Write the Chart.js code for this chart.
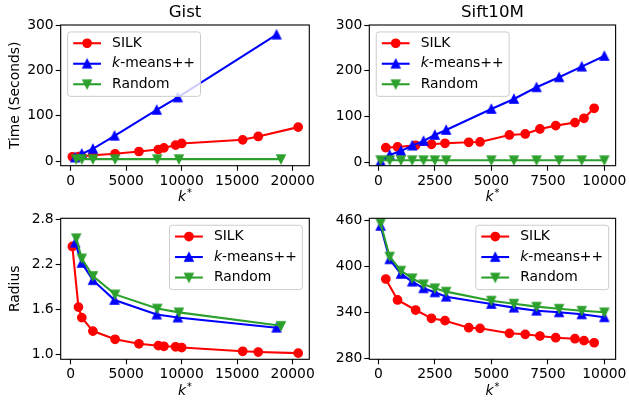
<!DOCTYPE html>
<html><head><meta charset="utf-8">
<script src="https://cdn.jsdelivr.net/npm/chart.js@4.4.1/dist/chart.umd.min.js"></script>
<style>
html,body{margin:0;padding:0;background:#fff;}
#wrap{position:relative;width:629px;height:400px;background:#fff;}
canvas{position:absolute;left:0;top:0;}
</style></head><body>
<div id="wrap">
<canvas id="c1" width="629" height="400"></canvas>
<canvas id="c2" width="629" height="400"></canvas>
<canvas id="c3" width="629" height="400"></canvas>
<canvas id="c4" width="629" height="400"></canvas>
</div>
<script>
// ---------- data ----------
const seriesNames = ["SILK", "k-means++", "Random"];
const panelTitles = ["Gist", "Sift10M"];
const yLabels = ["Time (Seconds)", "Radius"];

const gistSilkK      = [150, 700, 1000, 2000, 4000, 6150, 7900, 8400, 9450, 10000, 15500, 16900, 20500];
const gistSilkTime   = [9.6, 10, 11, 13.2, 16.2, 21.3, 25.7, 29.4, 35.3, 39, 47, 54.4, 75];
const gistSilkRadius = [2.44, 1.63, 1.49, 1.31, 1.20, 1.14, 1.115, 1.107, 1.10, 1.09, 1.04, 1.03, 1.015];
const gistKmK        = [400, 1000, 2000, 3950, 7750, 9650, 18550];
const gistKmTime     = [8, 16.2, 27.2, 55.9, 113, 140.4, 278.7];
const gistKmRadius   = [2.49, 2.22, 1.99, 1.725, 1.53, 1.49, 1.355];
const gistRandK      = [500, 1000, 2000, 4000, 7800, 9750, 18950];
const gistRandTime   = [4.4, 4.4, 4.4, 4.4, 4.4, 4.4, 4.5];
const gistRandRadius = [2.55, 2.28, 2.045, 1.80, 1.61, 1.56, 1.38];

const siftSilkK      = [330, 850, 1650, 2350, 2950, 4000, 4500, 5800, 6500, 7150, 7850, 8700, 9100, 9550];
const siftSilkTime   = [32, 33.5, 37.1, 39.3, 41.5, 43.7, 44.4, 59.7, 61.9, 72.8, 80.1, 86.7, 96.1, 118];
const siftSilkRadius = [383.8, 356.4, 343.3, 332.5, 329.4, 320.2, 319.4, 312.9, 311.6, 309.4, 307.2, 305.9, 303.3, 300.6];
const siftKmK        = [100, 500, 1000, 1500, 2000, 2500, 3000, 5000, 6000, 7000, 8000, 9000, 10000];
const siftKmTime     = [2, 16, 24.8, 36.4, 46.6, 59.7, 70.6, 116.5, 138.4, 163.9, 185.7, 209, 232.3];
const siftKmRadius   = [453.1, 409.5, 390.4, 380.3, 371.7, 366.4, 360.7, 351.2, 346.4, 342.4, 340.3, 337.7, 333.8];
const siftRandK      = [100, 500, 1000, 1500, 2000, 2500, 3000, 5000, 6000, 7000, 8000, 9000, 10000];
const siftRandTime   = [4.5, 4.5, 4.5, 4.5, 4.5, 4.5, 4.5, 4.5, 4.5, 4.5, 4.5, 4.5, 4.5];
const siftRandRadius = [456.6, 413, 394.7, 384.7, 376.9, 371.7, 367.3, 355.5, 351.6, 347.7, 345, 342.4, 340.3];

const gistXTicks   = [0, 5000, 10000, 15000, 20000];
const siftXTicks   = [0, 2500, 5000, 7500, 10000];
const timeYTicks   = [0, 100, 200, 300];
const gistRYTicks  = [1.0, 1.6, 2.2, 2.8];
const siftRYTicks  = [280, 340, 400, 460];

// ---------- style ----------
const FAM = "'DejaVu Sans', sans-serif";
const FS = 13.89;
const RED = '#ff0000', BLUE = '#0000ff', GREEN = '#2ca02c';

function triMarker(color, down) {
  const c = document.createElement('canvas');
  c.width = 16; c.height = 16;
  const g = c.getContext('2d');
  const h = 4.17, m = 8;
  g.beginPath();
  if (!down) { g.moveTo(m, m - h); g.lineTo(m - h, m + h); g.lineTo(m + h, m + h); }
  else { g.moveTo(m, m + h); g.lineTo(m - h, m - h); g.lineTo(m + h, m - h); }
  g.closePath();
  g.fillStyle = color; g.fill();
  g.lineWidth = 1.39; g.strokeStyle = color; g.lineJoin = 'miter'; g.stroke();
  return c;
}
const upTri = triMarker(BLUE, false);
const downTri = triMarker(GREEN, true);

function ds(label, xs, ys, color, style, order) {
  const isImg = typeof style !== 'string';
  return {
    label, data: xs.map((x, i) => ({x, y: ys[i]})),
    borderColor: color, backgroundColor: color, borderWidth: 2.08,
    pointStyle: style, pointRadius: isImg ? 5 : 4.17, pointBorderWidth: 1.39,
    pointBackgroundColor: color, pointBorderColor: color,
    tension: 0, fill: false, order
  };
}

const mplPlugin = {
  id: 'mpl',
  afterDraw(chart, args, opts) {
    const ctx = chart.ctx, a = chart.chartArea;
    ctx.save();
    // spines
    ctx.strokeStyle = '#000'; ctx.lineWidth = 1.11;
    ctx.strokeRect(a.left, a.top, a.right - a.left, a.bottom - a.top);
    // x label  k^*
    const cx = (a.left + a.right) / 2, base = a.bottom + 35.7;
    ctx.fillStyle = '#000';
    ctx.textBaseline = 'alphabetic';
    ctx.font = `italic ${FS}px ${FAM}`;
    const kw = ctx.measureText('k').width;
    ctx.font = `${FS * 0.7}px ${FAM}`;
    const sw = ctx.measureText('*').width;
    const x0 = cx - (kw + 1 + sw) / 2;
    ctx.font = `italic ${FS}px ${FAM}`;
    ctx.textAlign = 'left';
    ctx.fillText('k', x0, base);
    ctx.font = `${FS * 0.7}px ${FAM}`;
    ctx.fillText('*', x0 + kw + 1, base - 5);
    // legend
    const items = chart.data.datasets.slice().sort((p, q) => q.order - p.order);
    ctx.font = `${FS}px ${FAM}`;
    const widths = items.map(d => {
      if (d.label === 'k-means++') {
        ctx.font = `italic ${FS}px ${FAM}`;
        const w1 = ctx.measureText('k').width;
        ctx.font = `${FS}px ${FAM}`;
        return w1 + ctx.measureText('-means++').width;
      }
      return ctx.measureText(d.label).width;
    });
    const maxW = Math.max(...widths);
    const w = 5.56 + 27.8 + 11.1 + maxW + 5.56;
    const h = 64.4;
    const bx = opts.pos === 'ul' ? a.left + 6.94 : a.right - 6.94 - w;
    const by = a.top + 6.94;
    ctx.beginPath();
    if (ctx.roundRect) ctx.roundRect(bx, by, w, h, 2.8); else ctx.rect(bx, by, w, h);
    ctx.fillStyle = 'rgba(255,255,255,0.8)'; ctx.fill();
    ctx.strokeStyle = '#cccccc'; ctx.lineWidth = 1.0; ctx.stroke();
    items.forEach((d, i) => {
      const cy = by + 11.3 + i * 20.5;
      const lx = bx + 5.56;
      ctx.beginPath(); ctx.moveTo(lx, cy); ctx.lineTo(lx + 27.8, cy);
      ctx.strokeStyle = d.borderColor; ctx.lineWidth = 2.08; ctx.stroke();
      const mx = lx + 13.9;
      if (typeof d.pointStyle === 'string') {
        ctx.beginPath(); ctx.arc(mx, cy, 4.17, 0, Math.PI * 2);
        ctx.fillStyle = d.borderColor; ctx.fill();
        ctx.lineWidth = 1.39; ctx.stroke();
      } else {
        ctx.drawImage(d.pointStyle, mx - 8, cy - 8);
      }
      ctx.fillStyle = '#000'; ctx.textBaseline = 'middle'; ctx.textAlign = 'left';
      const tx = lx + 27.8 + 11.1;
      if (d.label === 'k-means++') {
        ctx.font = `italic ${FS}px ${FAM}`;
        ctx.fillText('k', tx, cy);
        const w1 = ctx.measureText('k').width;
        ctx.font = `${FS}px ${FAM}`;
        ctx.fillText('-means++', tx + w1, cy);
      } else {
        ctx.font = `${FS}px ${FAM}`;
        ctx.fillText(d.label, tx, cy);
      }
    });
    ctx.restore();
  }
};

const XH = 30, YW = 45;
function makeChart(id, area, title, yTitle, datasets, xr, xt, yr, yt, yfmt, legendPos) {
  const left = area.l;
  const padLeft = yTitle ? 0 : left - YW;
  const yWidth = yTitle ? left : YW;
  const titleH = title ? 25 : 0;
  return new Chart(document.getElementById(id), {
    type: 'line',
    data: {datasets},
    plugins: [mplPlugin],
    options: {
      responsive: false, animation: false, devicePixelRatio: 1, events: [],
      layout: {padding: {left: padLeft, top: area.t - titleH, right: 629 - area.r, bottom: 400 - area.b - XH}},
      plugins: {
        legend: {display: false}, tooltip: {enabled: false},
        title: {display: !!title, text: title || '', fullSize: false, color: '#000',
                font: {family: FAM, size: 16.67, weight: 'normal'}, padding: {top: 3, bottom: 2}},
        mpl: {pos: legendPos}
      },
      scales: {
        x: {
          type: 'linear', min: xr[0], max: xr[1],
          afterBuildTicks: s => { s.ticks = xt.map(v => ({value: v})); },
          afterFit: s => { s.height = XH; },
          grid: {display: true, drawOnChartArea: false, drawTicks: true, tickLength: 5, tickColor: '#000', tickWidth: 1.1, color: '#000'},
          border: {display: false},
          ticks: {color: '#000', font: {family: FAM, size: FS}, padding: 2, maxRotation: 0, autoSkip: false,
                  callback: v => String(v)}
        },
        y: {
          type: 'linear', min: yr[0], max: yr[1],
          afterBuildTicks: s => { s.ticks = yt.map(v => ({value: v})); },
          afterFit: s => { s.width = yWidth; },
          grid: {display: true, drawOnChartArea: false, drawTicks: true, tickLength: 5, tickColor: '#000', tickWidth: 1.1, color: '#000'},
          border: {display: false},
          ticks: {color: '#000', font: {family: FAM, size: FS}, padding: 2, autoSkip: false, callback: yfmt},
          title: {display: !!yTitle, text: yTitle || '', color: '#000', font: {family: FAM, size: FS}, padding: {top: 7, bottom: 0}}
        }
      }
    }
  });
}

const areas = {
  tl: {l: 60.7, t: 25, r: 309.3, b: 165.7},
  tr: {l: 369.3, t: 25, r: 618.3, b: 165.7},
  bl: {l: 60.7, t: 218.3, r: 309.3, b: 359.3},
  br: {l: 369.3, t: 218.3, r: 618.3, b: 359.3}
};
const intFmt = v => String(v);

makeChart('c1', areas.tl, panelTitles[0], yLabels[0], [
  ds(seriesNames[0], gistSilkK, gistSilkTime, RED, 'circle', 3),
  ds(seriesNames[1], gistKmK, gistKmTime, BLUE, upTri, 2),
  ds(seriesNames[2], gistRandK, gistRandTime, GREEN, downTri, 1)
], [-900, 21500], gistXTicks, [-10, 300], timeYTicks, intFmt, 'ul');

makeChart('c2', areas.tr, panelTitles[1], null, [
  ds(seriesNames[0], siftSilkK, siftSilkTime, RED, 'circle', 3),
  ds(seriesNames[1], siftKmK, siftKmTime, BLUE, upTri, 2),
  ds(seriesNames[2], siftRandK, siftRandTime, GREEN, downTri, 1)
], [-400, 10500], siftXTicks, [-7.5, 300], timeYTicks, intFmt, 'ul');

makeChart('c3', areas.bl, null, yLabels[1], [
  ds(seriesNames[0], gistSilkK, gistSilkRadius, RED, 'circle', 3),
  ds(seriesNames[1], gistKmK, gistKmRadius, BLUE, upTri, 2),
  ds(seriesNames[2], gistRandK, gistRandRadius, GREEN, downTri, 1)
], [-900, 21500], gistXTicks, [0.933, 2.816], gistRYTicks, v => v.toFixed(1), 'ur');

makeChart('c4', areas.br, null, null, [
  ds(seriesNames[0], siftSilkK, siftSilkRadius, RED, 'circle', 3),
  ds(seriesNames[1], siftKmK, siftKmRadius, BLUE, upTri, 2),
  ds(seriesNames[2], siftRandK, siftRandRadius, GREEN, downTri, 1)
], [-400, 10500], siftXTicks, [279, 463], siftRYTicks, intFmt, 'ur');
</script>
</body></html>
